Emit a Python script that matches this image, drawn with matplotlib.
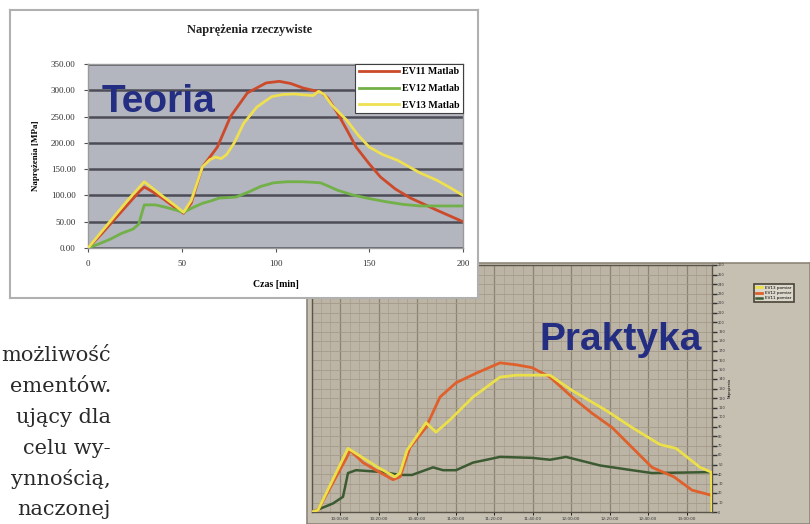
import numpy as np
import matplotlib
matplotlib.use("Agg")
import matplotlib.pyplot as plt
from matplotlib.ticker import MultipleLocator, FixedLocator

W, H = 810, 524

# ---------------- Theory chart data (Czas [min] vs Naprężenia [MPa]) ----------------
t_ev11 = [0, 7, 14, 21, 27, 30, 34, 40, 46, 51, 55, 61, 69, 76, 85, 95, 102, 108, 115, 120,
          124, 128, 133, 138, 143, 150, 156, 164, 172, 180, 186, 193, 200]
s_ev11 = [0, 26, 54, 82, 106, 116, 108, 94, 78, 66, 85, 154, 192, 250, 295, 314, 317, 313, 304, 300,
          297, 285, 257, 225, 192, 160, 135, 112, 95, 82, 72, 61, 50]

t_ev12 = [0, 6, 12, 18, 24, 27, 30, 36, 42, 47, 51, 56, 61, 66, 70, 75, 79, 86, 92, 99, 106, 114,
          120, 124, 128, 133, 141, 150, 159, 168, 177, 186, 193, 200]
s_ev12 = [0, 8, 17, 28, 36, 45, 82, 82, 77, 72, 68, 77, 85, 90, 95, 96, 97, 107, 117, 124, 126, 126,
          125, 124, 118, 110, 101, 94, 88, 83, 80, 80, 80, 80]

t_ev13 = [0, 7, 14, 21, 27, 30, 34, 40, 46, 51, 55, 61, 65, 68, 71, 74, 78, 83, 90, 98, 104, 110,
          116, 120, 123, 126, 130, 138, 144, 150, 157, 165, 171, 177, 186, 193, 200]
s_ev13 = [0, 30, 60, 90, 114, 126, 115, 98, 82, 68, 90, 154, 168, 173, 170, 178, 200, 237, 268, 288, 292, 293,
          291, 290, 298, 292, 272, 243, 215, 192, 178, 167, 155, 143, 129, 115, 100]

theory_labels = ["EV11 Matlab", "EV12 Matlab", "EV13 Matlab"]
theory_yticks = [0, 50, 100, 150, 200, 250, 300, 350]
theory_xticks = [0, 50, 100, 150, 200]

# ---------------- Practice chart data ----------------
p_t_red = [0, 3, 17.5, 19, 25.5, 32, 40.5, 44, 49, 57, 64, 72, 82, 94, 102, 110, 119, 130, 140,
           150, 160, 170, 181, 190, 199, 200]
p_s_red = [0, 2, 58, 65, 52, 44, 34, 37, 68, 89, 121, 136, 146, 157, 155, 152, 142, 121, 104,
           89, 68, 47, 37, 23, 18, 17]

p_t_yel = [0, 3, 18, 27, 33, 41.5, 44, 47.5, 57, 62, 69, 80.5, 94, 102, 119, 130, 147, 160, 174,
           182, 194, 199.6, 200]
p_s_yel = [0, 2, 67, 55, 47, 37, 41, 65, 94, 84, 97, 121, 142, 144, 144, 128, 107, 89, 71,
           67, 47, 42, 0]

p_t_grn = [0, 10.5, 15.5, 18, 22, 35.5, 44, 50, 60.5, 65.5, 72, 80.5, 94, 110, 119, 127, 144,
           160, 170, 200]
p_s_grn = [0, 9, 16, 41, 44, 42, 39, 39, 47, 44, 44, 52, 58, 57, 55, 58, 49,
           44, 41, 42]

practice_xlabels = ["10:00:00", "10:20:00", "10:40:00", "11:00:00", "11:20:00",
                    "11:40:00", "12:00:00", "12:20:00", "12:40:00", "13:00:00"]
practice_labels = ["EV11 pomiar", "EV12 pomiar", "EV13 pomiar"]

# visible fragments of the article text (the page is cut at the left edge)
paragraph = ["możliwość", "ementów.", "ujący dla", "celu wy-",
             "ynnością,", "naczonej"]

# ---------------------------------------------------------------
def fx(px):
    return px / W

def fy(py):
    return 1 - py / H

fig = plt.figure(figsize=(W / 100, H / 100), dpi=100)
fig.patch.set_facecolor("white")

# ---- Practice chart (drawn first, underneath) ----
bg2 = fig.add_axes([fx(307), 0, 1 - fx(307), fy(263)])
bg2.set_facecolor("#c6c0b3")
for s in bg2.spines.values():
    s.set_color("#8c8578")
    s.set_linewidth(1.2)
bg2.set_xticks([])
bg2.set_yticks([])

ax2 = fig.add_axes([fx(312), fy(512), 400 / W, 247 / H])
ax2.set_facecolor("#bcb4a4")
ax2.plot(p_t_grn, p_s_grn, color="#3c5a32", lw=1.8, zorder=3)
ax2.plot(p_t_red, p_s_red, color="#e0602c", lw=2.0, zorder=4)
ax2.plot(p_t_yel, p_s_yel, color="#ece04a", lw=2.0, zorder=5)
ax2.set_xlim(0, 200)
ax2.set_ylim(0, 260)
xt = np.arange(14, 200, 19.25)
ax2.xaxis.set_major_locator(FixedLocator(xt))
ax2.xaxis.set_minor_locator(FixedLocator(np.arange(14 - 19.25 * 0.75, 200, 19.25 / 4)))
ax2.set_xticklabels(practice_xlabels, fontsize=3, color="#333333")
ax2.yaxis.set_major_locator(MultipleLocator(10))
ax2.yaxis.tick_right()
ax2.tick_params(axis="y", labelsize=2.5, length=3.5, width=1.0, colors="#333333", pad=1)
ax2.tick_params(axis="x", length=2, width=0.6, pad=1.5)
ax2.tick_params(axis="x", which="minor", length=0)
ax2.grid(axis="x", which="major", color="#8c8373", lw=0.9)
ax2.grid(axis="x", which="minor", color="#a69e8f", lw=0.5)
ax2.grid(axis="y", which="major", color="#a39a8a", lw=0.6)
ax2.set_axisbelow(True)
for s in ax2.spines.values():
    s.set_color("#5a5448")
    s.set_linewidth(1.0)
ax2.set_ylabel("Naprężenia", fontsize=2.5, labelpad=2)
ax2.yaxis.set_label_position("right")
ax2.text(0.975, 0.655, "Praktyka", transform=ax2.transAxes, ha="right", va="baseline",
         fontsize=28, fontweight="bold", family="Liberation Sans", color="#232d82", zorder=6)

leg2 = fig.legend(ax2.get_lines()[::-1], practice_labels[::-1], loc="upper left",
                  bbox_to_anchor=(fx(752), fy(282)), fontsize=3, frameon=True,
                  fancybox=False, edgecolor="#4a4438", facecolor="#ddd8cc", framealpha=1,
                  handlelength=1.5, borderpad=0.4, labelspacing=0.3)
leg2.get_frame().set_linewidth(1.2)

# ---- Theory chart box ----
bg1 = fig.add_axes([fx(10), fy(298), 468 / W, 288 / H])
bg1.set_facecolor("white")
for s in bg1.spines.values():
    s.set_color("#b0b0b0")
    s.set_linewidth(1.5)
bg1.set_xticks([])
bg1.set_yticks([])

ax1 = fig.add_axes([fx(88), fy(248), 375 / W, 184 / H])
ax1.set_facecolor("#b3b5bf")
ax1.plot(t_ev11, s_ev11, color="#cc4a2a", lw=2.0, label=theory_labels[0], zorder=3)
ax1.plot(t_ev12, s_ev12, color="#72b048", lw=2.0, label=theory_labels[1], zorder=3)
ax1.plot(t_ev13, s_ev13, color="#eee050", lw=2.0, label=theory_labels[2], zorder=4)
ax1.set_xlim(0, 200)
ax1.set_ylim(0, 350)
ax1.set_yticks(theory_yticks)
ax1.set_yticklabels([f"{v:.2f}" for v in theory_yticks])
ax1.set_xticks(theory_xticks)
ax1.set_xticklabels([str(v) for v in theory_xticks])
for lab in ax1.get_xticklabels() + ax1.get_yticklabels():
    lab.set_family("Liberation Serif")
    lab.set_fontsize(6.5)
    lab.set_color("#333333")
ax1.tick_params(axis="both", length=3, width=0.8, colors="#555555", pad=6)
ax1.tick_params(axis="both", labelcolor="#333333")
ax1.grid(axis="y", color="#4c4c56", lw=1.8)
ax1.set_axisbelow(True)
for s in ax1.spines.values():
    s.set_color("#9a9a9a")
    s.set_linewidth(1.0)
ax1.set_xlabel("Czas [min]", family="Liberation Serif", fontweight="bold", fontsize=7, labelpad=8)
ax1.set_ylabel("Naprężenia [MPa]", family="Liberation Serif", fontweight="bold", fontsize=6.5,
               labelpad=8)
ax1.text(0.035, 0.74, "Teoria", transform=ax1.transAxes, ha="left", va="baseline",
         fontsize=28, fontweight="bold", family="Liberation Sans", color="#232d82", zorder=6)
leg1 = ax1.legend(loc="upper right", borderaxespad=0, frameon=True, fancybox=False,
                  edgecolor="#404040", facecolor="white", framealpha=1,
                  prop={"family": "Liberation Serif", "weight": "bold", "size": 7.2},
                  handlelength=4.0, labelspacing=0.75, borderpad=0.35, handletextpad=0.3)
leg1.get_frame().set_linewidth(0.8)

fig.text(fx(250), fy(30), "Naprężenia rzeczywiste", ha="center", va="center",
         family="Liberation Serif", fontweight="bold", fontsize=9, color="#222222")

# ---- Paragraph text ----
baselines = [361, 392, 423, 454, 485, 515]
for line, b in zip(paragraph, baselines):
    fig.text(fx(111), fy(b), line, ha="right", va="baseline", fontsize=15,
             family="DejaVu Serif", color="#2a2a2a")

fig.savefig("out.png", dpi=100, facecolor="white")
